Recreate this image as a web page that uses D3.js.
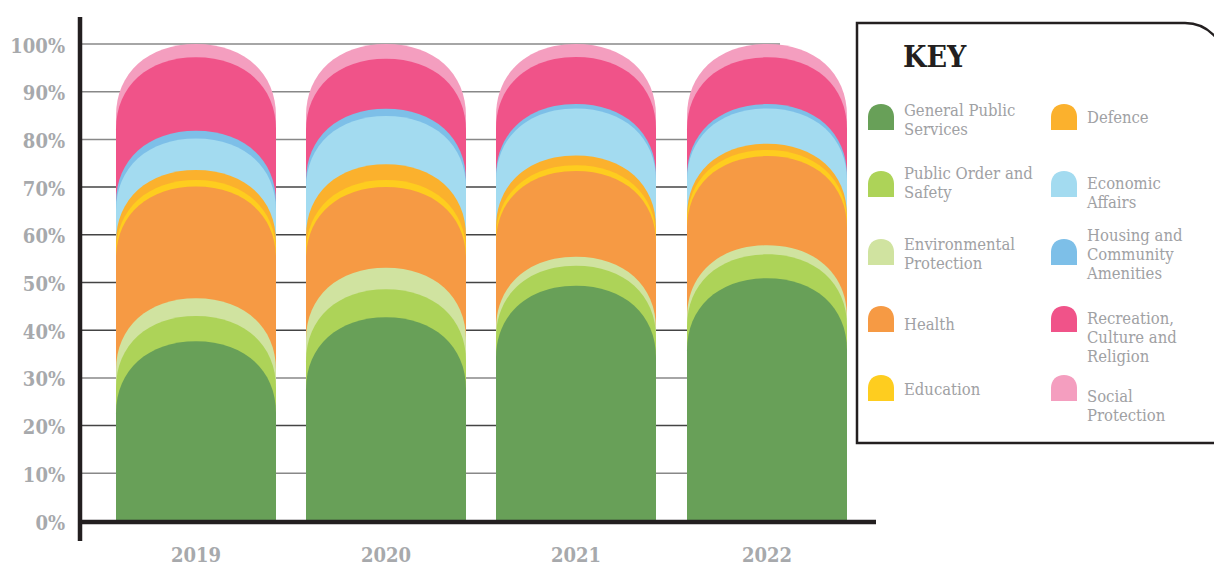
<!DOCTYPE html>
<html><head><meta charset="utf-8">
<script src="https://cdn.jsdelivr.net/npm/d3@7"></script>
<style>body{margin:0;background:#fff}svg{display:block}</style>
</head><body>
<svg id="chart" width="1214" height="567"></svg>
<script>
// ---------- DATA ----------
const years = ["2019", "2020", "2021", "2022"];
const categories = [
  "General Public Services", "Public Order and Safety", "Environmental Protection",
  "Health", "Education", "Defence", "Economic Affairs",
  "Housing and Community Amenities", "Recreation, Culture and Religion", "Social Protection"
];
const legendLines = [
  ["General Public", "Services"], ["Public Order and", "Safety"], ["Environmental", "Protection"],
  ["Health"], ["Education"], ["Defence"], ["Economic", "Affairs"],
  ["Housing and", "Community", "Amenities"], ["Recreation,", "Culture and", "Religion"], ["Social", "Protection"]
];
// share of total spending (%) per year
const generalPublicServices = [37.7, 42.7, 49.3, 50.9];
const publicOrderSafety     = [5.3, 5.9, 4.2, 5.0];
const environmental         = [3.7, 4.5, 1.9, 1.9];
const health                = [23.4, 16.9, 18.0, 18.7];
const education             = [1.4, 1.5, 1.2, 1.3];
const defence               = [2.1, 3.3, 2.0, 1.3];
const economicAffairs       = [6.6, 10.1, 9.9, 7.4];
const housing               = [1.6, 1.5, 0.9, 0.9];
const recreation            = [15.4, 10.5, 9.9, 9.8];
const socialProtection      = [2.8, 3.1, 2.7, 2.8];
const yTickValues = [0, 10, 20, 30, 40, 50, 60, 70, 80, 90, 100];
const yTickLabels = ["0%", "10%", "20%", "30%", "40%", "50%", "60%", "70%", "80%", "90%", "100%"];

// ---------- STYLE ----------
const colors = ["#68a058", "#add358", "#d0e3a0", "#f69a44", "#fecd1f",
                "#fbb12d", "#a3dbf0", "#7dbfe8", "#f05389", "#f49ebf"];
const seriesValues = [generalPublicServices, publicOrderSafety, environmental, health, education,
                      defence, economicAffairs, housing, recreation, socialProtection];
const serif = "'DejaVu Serif Condensed', 'DejaVu Serif', serif";
const grey = "#a7a9ac";
const legendGrey = "#9fa1a4";
const ink = "#231f20";

const table = years.map((yr, i) => {
  const row = { year: yr };
  categories.forEach((c, j) => row[c] = seriesValues[j][i]);
  return row;
});
const stacked = d3.stack().keys(categories)(table);

const svg = d3.select("#chart");
const y = d3.scaleLinear().domain([0, 100]).range([521, 44]);
const x = d3.scalePoint().domain(years).range([195.5, 766.5]);
const barW = 160, capH = 72, capK = 0.6;

function arch(cx, w, yt, yb, h, k) {
  const rx = w / 2, x0 = cx - rx, x1 = cx + rx;
  return `M${x0},${yb}L${x0},${yt + h}C${x0},${yt + h * (1 - k)} ${cx - rx * k},${yt} ${cx},${yt}` +
         `C${cx + rx * k},${yt} ${x1},${yt + h * (1 - k)} ${x1},${yt + h}L${x1},${yb}Z`;
}

// gridlines
svg.append("g").selectAll("line").data(yTickValues.filter(v => v > 0)).join("line")
  .attr("x1", 82).attr("x2", 780)
  .attr("y1", d => y(d)).attr("y2", d => y(d))
  .attr("stroke", d => (d >= 40 && d <= 70) || d === 20 ? "#444" : "#888")
  .attr("stroke-width", 1.5);

// bars: draw cumulative arches back (top layer) to front (bottom layer)
const layers = stacked.slice().reverse();
svg.append("g").selectAll("g").data(layers).join("g")
  .attr("fill", d => colors[categories.indexOf(d.key)])
  .selectAll("path").data(d => d).join("path")
  .attr("d", d => arch(Math.round(x(d.data.year)), barW, y(d[1]), y(0), capH, capK));

// axes
svg.append("line").attr("x1", 80).attr("x2", 80).attr("y1", 17).attr("y2", 541)
  .attr("stroke", ink).attr("stroke-width", 4.5);
svg.append("line").attr("x1", 78).attr("x2", 876).attr("y1", y(0) + 1).attr("y2", y(0) + 1)
  .attr("stroke", ink).attr("stroke-width", 4.5);

// y tick labels
svg.append("g").selectAll("text").data(yTickValues).join("text")
  .attr("x", 65).attr("y", d => y(d) + 8.5)
  .attr("text-anchor", "end")
  .attr("font-family", serif).attr("font-weight", "bold").attr("font-size", 20)
  .attr("fill", grey)
  .text((d, i) => yTickLabels[i]);

// x labels
svg.append("g").selectAll("text").data(years).join("text")
  .attr("x", d => Math.round(x(d))).attr("y", 562)
  .attr("text-anchor", "middle")
  .attr("font-family", serif).attr("font-weight", "bold").attr("font-size", 20)
  .attr("fill", grey)
  .text(d => d);

// ---------- LEGEND ----------
svg.append("path")
  .attr("d", "M857,443L857,23L1185,23A40,40 0 0 1 1225,63L1225,443Z")
  .attr("fill", "#fff").attr("stroke", ink).attr("stroke-width", 2.5);
svg.append("text").attr("x", 903).attr("y", 67)
  .attr("font-family", serif).attr("font-weight", "bold").attr("font-size", 30)
  .attr("fill", ink).text("KEY");

const colX = [868, 1051];
const rowTop = [104, 171, 239, 306, 375];
const textDy = [3, -1, 2, 5, 1, 0, 9, 2, 18, 18];
const lineH = 19;
const leg = svg.append("g");
categories.forEach((c, i) => {
  const col = Math.floor(i / 5), row = i % 5;
  const ix = colX[col], it = rowTop[row];
  leg.append("path").attr("d", arch(ix + 13, 26, it, it + 26, 13, 0.6)).attr("fill", colors[i]);
  const lines = legendLines[i];
  const center = it + 13 + textDy[i];
  const firstBase = center + 5.5 - (lines.length - 1) * lineH / 2;
  const t = leg.append("text").attr("font-family", serif).attr("font-size", 16.5).attr("fill", legendGrey);
  lines.forEach((ln, k) => t.append("tspan").attr("x", ix + 36).attr("y", firstBase + k * lineH).text(ln));
});
</script>
</body></html>
